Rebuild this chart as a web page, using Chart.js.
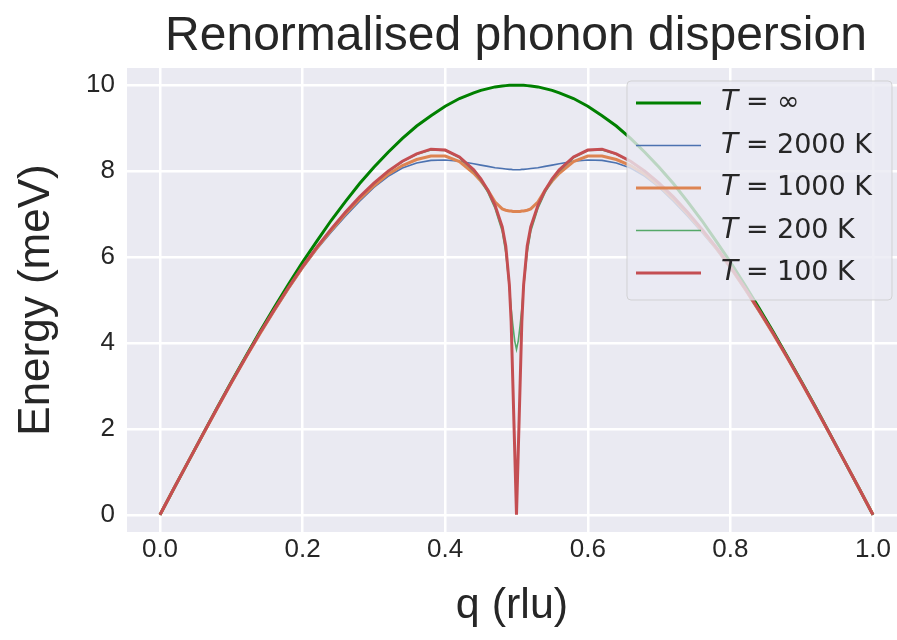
<!DOCTYPE html>
<html>
<head>
<meta charset="utf-8">
<script src="https://cdn.jsdelivr.net/npm/chart.js@4.4.1/dist/chart.umd.min.js"></script>
<style>
  body { margin: 0; background: #ffffff; }
  #phononChart { display: block; }
</style>
</head>
<body>
<canvas id="phononChart" width="897" height="640"></canvas>
<script>
// wave vector (rlu), finer sampling around the anomaly at q = 0.5
const qValues = [
  0, 0.02, 0.04, 0.06, 0.08, 0.1, 0.12, 0.14, 0.16, 0.18, 0.2,
  0.22, 0.24, 0.26, 0.28, 0.3, 0.32, 0.34, 0.36, 0.38, 0.4,
  0.42, 0.44, 0.45, 0.46, 0.47, 0.48, 0.485, 0.49, 0.4925, 0.495, 0.4975,
  0.5,
  0.5025, 0.505, 0.5075, 0.51, 0.515, 0.52, 0.53, 0.54, 0.55, 0.56, 0.58,
  0.6, 0.62, 0.64, 0.66, 0.68, 0.7, 0.72, 0.74, 0.76, 0.78, 0.8,
  0.82, 0.84, 0.86, 0.88, 0.9, 0.92, 0.94, 0.96, 0.98, 1.0
];

// energies in meV
const energyInf = [
  0, 0.63, 1.25, 1.87, 2.49, 3.09, 3.68, 4.26, 4.82, 5.36, 5.88,
  6.37, 6.85, 7.29, 7.71, 8.09, 8.44, 8.76, 9.05, 9.29, 9.51,
  9.69, 9.82, 9.88, 9.92, 9.96, 9.98, 9.99, 10.0, 10.0, 10.0, 10.0,
  10.0,
  10.0, 10.0, 10.0, 10.0, 9.99, 9.98, 9.96, 9.92, 9.88, 9.82, 9.69,
  9.51, 9.29, 9.05, 8.76, 8.44, 8.09, 7.71, 7.29, 6.85, 6.37, 5.88,
  5.36, 4.82, 4.26, 3.68, 3.09, 2.49, 1.87, 1.25, 0.63, 0
];
const energy2000 = [
  0, 0.63, 1.25, 1.86, 2.47, 3.06, 3.64, 4.2, 4.73, 5.25, 5.74,
  6.18, 6.58, 6.95, 7.3, 7.62, 7.88, 8.07, 8.19, 8.25, 8.26,
  8.23, 8.17, 8.14, 8.11, 8.08, 8.06, 8.05, 8.04, 8.04, 8.03, 8.03,
  8.03,
  8.03, 8.03, 8.04, 8.04, 8.05, 8.06, 8.08, 8.11, 8.14, 8.17, 8.23,
  8.26, 8.25, 8.19, 8.07, 7.88, 7.62, 7.3, 6.95, 6.58, 6.18, 5.74,
  5.25, 4.73, 4.2, 3.64, 3.06, 2.47, 1.86, 1.25, 0.63, 0
];
const energy1000 = [
  0, 0.63, 1.25, 1.86, 2.47, 3.07, 3.65, 4.21, 4.75, 5.27, 5.76,
  6.21, 6.62, 7.0, 7.35, 7.66, 7.93, 8.13, 8.27, 8.35, 8.35,
  8.22, 7.95, 7.77, 7.55, 7.28, 7.12, 7.09, 7.07, 7.07, 7.06, 7.06,
  7.06,
  7.06, 7.06, 7.07, 7.07, 7.09, 7.12, 7.28, 7.55, 7.77, 7.95, 8.22,
  8.35, 8.35, 8.27, 8.13, 7.93, 7.66, 7.35, 7.0, 6.62, 6.21, 5.76,
  5.27, 4.75, 4.21, 3.65, 3.07, 2.47, 1.86, 1.25, 0.63, 0
];
const energy200 = [
  0, 0.63, 1.25, 1.87, 2.48, 3.08, 3.66, 4.23, 4.77, 5.29, 5.78,
  6.23, 6.65, 7.04, 7.39, 7.71, 7.99, 8.22, 8.39, 8.49, 8.48,
  8.31, 8.0, 7.78, 7.5, 7.13, 6.6, 6.1, 5.3, 4.8, 4.4, 4.05,
  3.85,
  4.05, 4.4, 4.8, 5.3, 6.1, 6.6, 7.13, 7.5, 7.78, 8.0, 8.31,
  8.48, 8.49, 8.39, 8.22, 7.99, 7.71, 7.39, 7.04, 6.65, 6.23, 5.78,
  5.29, 4.77, 4.23, 3.66, 3.08, 2.48, 1.87, 1.25, 0.63, 0
];
const energy100 = [
  0, 0.63, 1.25, 1.87, 2.48, 3.08, 3.66, 4.23, 4.77, 5.29, 5.78,
  6.23, 6.65, 7.04, 7.4, 7.72, 8.0, 8.23, 8.4, 8.51, 8.49,
  8.33, 8.03, 7.82, 7.55, 7.2, 6.7, 6.25, 5.35, 4.5, 3.0, 1.5,
  0,
  1.5, 3.0, 4.5, 5.35, 6.25, 6.7, 7.2, 7.55, 7.82, 8.03, 8.33,
  8.49, 8.51, 8.4, 8.23, 8.0, 7.72, 7.4, 7.04, 6.65, 6.23, 5.78,
  5.29, 4.77, 4.23, 3.66, 3.08, 2.48, 1.87, 1.25, 0.63, 0
];

const seriesLabels = ['\u221E', '2000 K', '1000 K', '200 K', '100 K'];
const xTicks = [0, 0.2, 0.4, 0.6, 0.8, 1.0];
const yTicks = [0, 2, 4, 6, 8, 10];

const colors = ['#008000', '#4C72B0', '#DD8452', '#55A868', '#C44E52'];
const widths = [3, 1.6, 3, 1.6, 3];
const allSeries = [energyInf, energy2000, energy1000, energy200, energy100];

const textColor = '#262626';
const sansFont = '"Liberation Sans", Arial, sans-serif';

const datasets = allSeries.map((vals, i) => ({
  label: 'T = ' + seriesLabels[i],
  data: qValues.map((q, j) => ({ x: q, y: vals[j] })),
  borderColor: colors[i],
  borderWidth: widths[i],
  pointRadius: 0,
  tension: 0,
  fill: false,
  order: allSeries.length - i, // later series on top, like matplotlib
}));

// axes background
const plotBackground = {
  id: 'plotBackground',
  beforeDraw(chart) {
    const { ctx, chartArea } = chart;
    ctx.save();
    ctx.fillStyle = '#EAEAF2';
    ctx.fillRect(chartArea.left, chartArea.top, chartArea.right - chartArea.left, chartArea.bottom - chartArea.top);
    ctx.restore();
  },
};

// title centred over the axes
const plotTitle = {
  id: 'plotTitle',
  afterDraw(chart) {
    const { ctx, chartArea } = chart;
    ctx.save();
    ctx.fillStyle = textColor;
    ctx.font = '48px ' + sansFont;
    ctx.textAlign = 'center';
    ctx.textBaseline = 'alphabetic';
    ctx.fillText('Renormalised phonon dispersion', (chartArea.left + chartArea.right) / 2 + 4, 50);
    ctx.restore();
  },
};

// matplotlib-style legend box in the upper right
const boxLegend = {
  id: 'boxLegend',
  afterDatasetsDraw(chart) {
    const { ctx } = chart;
    const x0 = 627, y0 = 81, w = 265, h = 219, r = 4;
    ctx.save();
    ctx.beginPath();
    ctx.roundRect(x0, y0, w, h, r);
    ctx.fillStyle = 'rgba(234,234,242,0.8)';
    ctx.fill();
    ctx.lineWidth = 1;
    ctx.strokeStyle = 'rgba(204,204,204,0.8)';
    ctx.stroke();

    seriesLabels.forEach((lab, i) => {
      const y = 103 + i * 42.5;
      ctx.beginPath();
      ctx.moveTo(636, y);
      ctx.lineTo(701, y);
      ctx.strokeStyle = colors[i];
      ctx.lineWidth = widths[i];
      ctx.stroke();

      ctx.fillStyle = textColor;
      ctx.textBaseline = 'middle';
      ctx.textAlign = 'left';
      ctx.font = 'italic 28px "DejaVu Sans"';
      ctx.fillText('T', 721, y);
      ctx.font = '27px "DejaVu Sans"';
      ctx.fillText('=', 746, y);
      ctx.fillText(lab, 777, y);
    });
    ctx.restore();
  },
};

const ctx = document.getElementById('phononChart');
new Chart(ctx, {
  type: 'line',
  data: { datasets },
  options: {
    responsive: false,
    animation: false,
    devicePixelRatio: 1,
    layout: { autoPadding: false, padding: { top: 68, left: 0, right: 0, bottom: 0 } },
    plugins: {
      legend: { display: false },
      tooltip: { enabled: false },
      title: { display: false },
    },
    scales: {
      x: {
        type: 'linear',
        min: -0.0463,
        max: 1.0337,
        afterFit(scale) { scale.height = 108; },
        afterBuildTicks(scale) { scale.ticks = xTicks.map(v => ({ value: v })); },
        grid: { color: '#ffffff', lineWidth: 2.5, drawTicks: false },
        border: { display: false },
        ticks: {
          color: textColor,
          padding: 2,
          font: { size: 26, family: sansFont },
          callback: v => Number(v).toFixed(1),
        },
        title: {
          display: true,
          text: 'q (rlu)',
          color: textColor,
          font: { size: 43, family: sansFont },
          padding: { top: 0, bottom: 8 },
        },
      },
      y: {
        type: 'linear',
        min: -0.4,
        max: 10.4,
        afterFit(scale) { scale.width = 127; },
        afterBuildTicks(scale) { scale.ticks = yTicks.map(v => ({ value: v })); },
        grid: { color: '#ffffff', lineWidth: 2.5, drawTicks: false },
        border: { display: false },
        ticks: {
          color: textColor,
          padding: 12,
          font: { size: 26, family: sansFont },
          callback: v => String(v),
        },
        title: {
          display: true,
          text: 'Energy (meV)',
          color: textColor,
          font: { size: 44, family: sansFont },
          padding: { top: 10, bottom: 0 },
        },
      },
    },
  },
  plugins: [plotBackground, plotTitle, boxLegend],
});
</script>
</body>
</html>
